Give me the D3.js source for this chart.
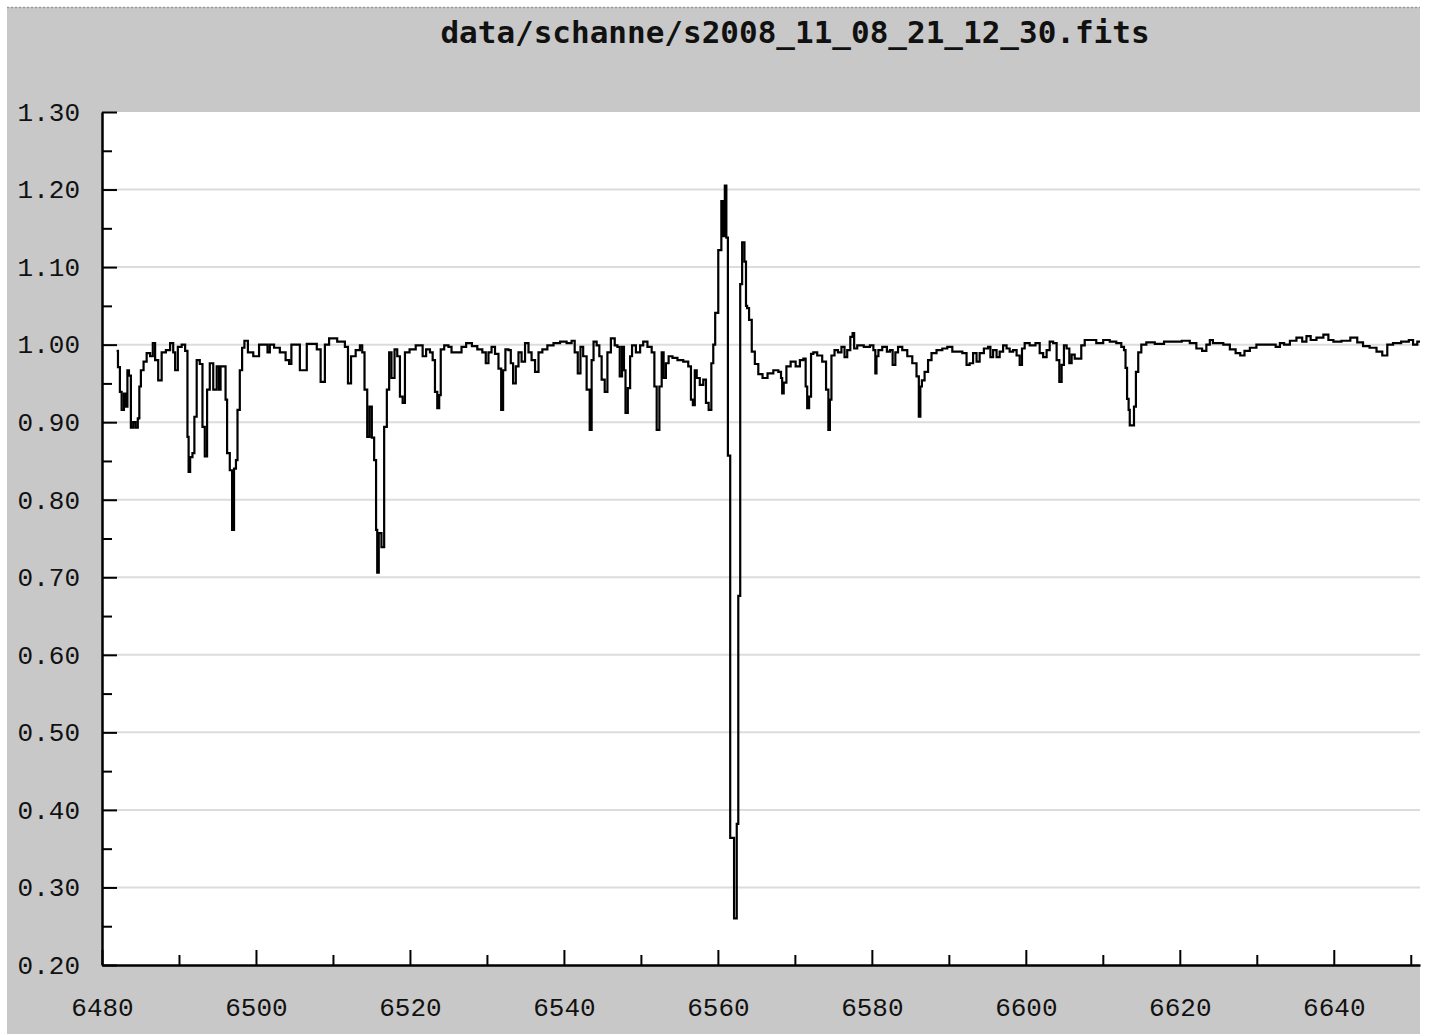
<!DOCTYPE html>
<html>
<head>
<meta charset="utf-8">
<script src="https://cdn.jsdelivr.net/npm/d3@7"></script>
<style>
  html, body { margin: 0; padding: 0; background: #ffffff; }
  svg { display: block; }
  .tick text { font-family: "Liberation Mono", "DejaVu Sans Mono", monospace; font-size: 26px; fill: #111; }
</style>
</head>
<body>
<svg id="chart" width="1430" height="1034"></svg>
<script>
// Spectrum: wavelength (Angstrom) and normalised flux
const title = "data/schanne/s2008_11_08_21_12_30.fits";

const wavelength = [
  6481.9, 6482.25, 6482.4, 6482.7, 6483.0, 6483.2, 6483.4, 6483.6, 6483.9, 6484.2,
  6484.5, 6484.8, 6484.9, 6485.2, 6485.6, 6486.0, 6486.5, 6486.7, 6487.1, 6487.5,
  6488.0, 6488.6, 6489.1, 6489.4, 6489.6, 6490.1, 6490.6, 6491.0, 6491.2, 6491.3,
  6491.6, 6491.9, 6492.1, 6492.5, 6492.9, 6493.2, 6493.5, 6493.8, 6494.2, 6494.7,
  6495.1, 6495.3, 6495.5, 6496.0, 6496.1, 6496.4, 6496.8, 6497.0, 6497.3, 6497.5,
  6497.7, 6498.1, 6498.3, 6498.7, 6499.2, 6500.1, 6500.7, 6501.4, 6501.6, 6502.0,
  6502.7, 6503.5, 6504.2, 6504.4, 6504.8, 6505.5, 6505.9, 6506.4, 6506.8, 6507.7,
  6508.1, 6508.7, 6509.2, 6509.8, 6511.3, 6511.8, 6512.1, 6512.6, 6513.3, 6513.7,
  6513.9, 6514.3, 6514.6, 6514.9, 6515.2, 6515.5, 6515.7, 6515.8, 6516.1, 6516.5,
  6516.8, 6517.2, 6517.4, 6517.8, 6518.2, 6518.5, 6518.9, 6519.2, 6519.5, 6520.4,
  6521.1, 6521.5, 6521.8, 6522.4, 6522.8, 6523.1, 6523.4, 6523.7, 6523.9, 6524.1,
  6524.8, 6525.2, 6525.6, 6526.5, 6526.9, 6527.7, 6528.4, 6529.1, 6529.7, 6530.0,
  6530.4, 6530.8, 6531.3, 6531.7, 6532.0, 6532.2, 6532.6, 6533.0, 6533.2, 6533.6,
  6533.9, 6534.3, 6534.7, 6535.2, 6535.6, 6536.0, 6536.5, 6536.9, 6537.5, 6538.2,
  6539.1, 6539.9, 6540.8, 6541.2, 6541.6, 6542.0, 6542.3, 6542.7, 6543.2, 6543.5,
  6543.7, 6544.0, 6544.5, 6544.7, 6545.1, 6545.5, 6545.8, 6546.4, 6546.8, 6547.1,
  6547.4, 6547.7, 6547.9, 6548.1, 6548.5, 6548.7, 6549.0, 6549.7, 6550.1, 6550.5,
  6551.2, 6551.6, 6551.9, 6552.2, 6552.6, 6552.8, 6553.1, 6553.4, 6553.8, 6554.4,
  6555.1, 6555.9, 6556.4, 6556.6, 6556.9, 6557.1, 6557.4, 6557.9, 6558.3, 6558.6,
  6559.0, 6559.3, 6559.5, 6559.8, 6560.3, 6560.6, 6560.8, 6561.0, 6561.2, 6561.4,
  6561.8, 6562.0, 6562.2, 6562.4, 6562.5, 6562.8, 6563.0, 6563.3, 6563.6, 6563.7,
  6563.9, 6564.2, 6564.6, 6565.0, 6565.5, 6566.1, 6566.8, 6567.6, 6568.1, 6568.3,
  6568.4, 6568.7, 6569.1, 6569.8, 6570.4, 6570.9, 6571.3, 6571.5, 6571.7, 6572.0,
  6572.2, 6572.6, 6573.2, 6573.9, 6574.2, 6574.5, 6574.6, 6574.9, 6575.4, 6575.8,
  6576.3, 6576.6, 6577.0, 6577.4, 6577.6, 6577.8, 6578.4, 6579.5, 6580.0, 6580.4,
  6580.5, 6580.7, 6581.0, 6581.7, 6582.2, 6582.5, 6582.9, 6583.2, 6583.6, 6584.3,
  6584.9, 6585.6, 6586.0, 6586.2, 6586.4, 6586.6, 6587.1, 6587.5, 6588.0, 6588.8,
  6589.5, 6590.1, 6590.8, 6591.4, 6592.1, 6592.5, 6592.9, 6593.4, 6593.8, 6594.2,
  6594.9, 6595.3, 6595.5, 6596.0, 6596.4, 6596.8, 6597.3, 6597.7, 6598.1, 6598.6,
  6599.0, 6599.4, 6599.6, 6600.1, 6600.9, 6601.6, 6602.0, 6602.5, 6602.9, 6603.3,
  6603.8, 6604.2, 6604.5, 6604.8, 6605.1, 6605.5, 6605.8, 6606.1, 6606.6, 6607.0,
  6607.4, 6607.9, 6608.7, 6609.6, 6610.5, 6611.3, 6612.2, 6612.6, 6612.9, 6613.0,
  6613.3, 6613.4, 6613.6, 6613.9, 6614.2, 6614.4, 6614.8, 6615.2, 6616.1, 6617.4,
  6618.5, 6619.6, 6620.9, 6621.7, 6622.6, 6623.2, 6623.7, 6624.1, 6624.5, 6625.2,
  6626.1, 6626.9, 6627.6, 6628.1, 6628.7, 6629.5, 6630.4, 6632.1, 6632.8, 6633.2,
  6633.9, 6634.7, 6635.6, 6636.2, 6636.7, 6637.3, 6638.2, 6639.1, 6639.5, 6640.4,
  6641.6, 6642.7, 6643.4, 6644.2, 6645.1, 6646.0, 6646.6, 6647.3, 6648.1, 6649.4,
  6650.1, 6650.5, 6651.2
];

const flux = [
  0.992, 0.971, 0.939, 0.916, 0.937, 0.920, 0.967, 0.960, 0.893, 0.900,
  0.893, 0.905, 0.946, 0.967, 0.978, 0.989, 0.985, 1.002, 0.980, 0.954,
  0.990, 0.993, 1.002, 0.990, 0.967, 0.997, 1.000, 0.992, 0.881, 0.836,
  0.855, 0.860, 0.907, 0.980, 0.975, 0.894, 0.856, 0.942, 0.976, 0.942,
  0.972, 0.942, 0.972, 0.972, 0.929, 0.860, 0.838, 0.761, 0.840, 0.851,
  0.916, 0.967, 0.996, 1.005, 0.990, 0.985, 1.000, 1.000, 0.990, 1.000,
  0.996, 0.990, 0.980, 0.975, 1.000, 1.000, 0.967, 0.967, 1.001, 1.001,
  0.994, 0.952, 1.000, 1.008, 1.004, 0.997, 0.950, 0.985, 0.993, 0.999,
  0.990, 0.942, 0.881, 0.920, 0.880, 0.851, 0.761, 0.706, 0.757, 0.739,
  0.894, 0.942, 0.990, 0.957, 0.994, 0.985, 0.933, 0.925, 0.990, 0.994,
  0.999, 0.999, 0.985, 0.994, 0.990, 0.980, 0.939, 0.918, 0.935, 0.994,
  0.999, 0.997, 0.990, 0.990, 0.997, 1.002, 0.998, 0.994, 0.990, 0.976,
  0.990, 0.997, 0.988, 0.969, 0.916, 0.967, 0.994, 0.993, 0.976, 0.950,
  0.972, 0.990, 0.978, 1.002, 0.990, 0.980, 0.965, 0.990, 0.994, 0.999,
  1.002, 1.004, 1.002, 1.005, 0.990, 0.963, 0.997, 0.985, 0.942, 0.890,
  0.980, 1.004, 0.999, 0.985, 0.955, 0.939, 0.990, 1.008, 0.999, 0.997,
  0.959, 0.997, 0.967, 0.912, 0.944, 0.985, 0.999, 0.990, 0.999, 1.004,
  0.997, 0.990, 0.946, 0.890, 0.946, 0.990, 0.957, 0.976, 0.985, 0.983,
  0.980, 0.978, 0.972, 0.929, 0.922, 0.967, 0.957, 0.948, 0.955, 0.925,
  0.916, 0.976, 1.000, 1.041, 1.122, 1.185, 1.140, 1.205, 1.138, 0.857,
  0.364, 0.364, 0.260, 0.260, 0.382, 0.676, 1.078, 1.132, 1.107, 1.050,
  1.047, 1.032, 0.991, 0.975, 0.962, 0.957, 0.963, 0.967, 0.965, 0.957,
  0.937, 0.951, 0.972, 0.978, 0.972, 0.980, 0.982, 0.946, 0.918, 0.933,
  0.988, 0.990, 0.986, 0.978, 0.942, 0.890, 0.929, 0.986, 0.993, 0.990,
  0.997, 0.984, 0.993, 1.010, 1.015, 0.995, 0.999, 0.997, 0.999, 0.993,
  0.963, 0.985, 0.993, 0.997, 0.991, 0.993, 0.974, 0.990, 0.997, 0.993,
  0.985, 0.976, 0.959, 0.907, 0.946, 0.954, 0.965, 0.980, 0.989, 0.993,
  0.995, 0.997, 0.991, 0.991, 0.989, 0.974, 0.976, 0.989, 0.978, 0.989,
  0.995, 0.997, 0.984, 0.993, 0.984, 0.991, 0.999, 0.995, 0.991, 0.993,
  0.986, 0.974, 0.995, 1.002, 0.999, 1.002, 0.989, 0.984, 0.993, 1.004,
  1.002, 0.980, 0.952, 0.974, 0.999, 0.995, 0.976, 0.987, 0.982, 0.982,
  0.999, 1.006, 1.006, 1.002, 1.006, 1.004, 1.002, 0.997, 0.993, 0.970,
  0.930, 0.916, 0.896, 0.896, 0.920, 0.965, 0.990, 1.000, 1.003, 1.001,
  1.004, 1.004, 1.005, 1.002, 0.995, 0.992, 1.000, 1.006, 1.002, 1.002,
  1.000, 0.994, 0.989, 0.986, 0.992, 0.996, 1.000, 1.000, 0.997, 1.002,
  1.000, 1.005, 1.009, 1.004, 1.011, 1.006, 1.009, 1.013, 1.006, 1.004,
  1.005, 1.009, 1.003, 0.998, 0.996, 0.991, 0.986, 1.000, 1.002, 1.004,
  1.006, 1.000, 1.004
];

const xMajorTicks = [6480, 6500, 6520, 6540, 6560, 6580, 6600, 6620, 6640];
const xMinorTicks = [6490, 6510, 6530, 6550, 6570, 6590, 6610, 6630, 6650];
const yMajorTicks = [0.20, 0.30, 0.40, 0.50, 0.60, 0.70, 0.80, 0.90, 1.00, 1.10, 1.20, 1.30];
const yMinorTicks = [0.25, 0.35, 0.45, 0.55, 0.65, 0.75, 0.85, 0.95, 1.05, 1.15, 1.25];
const xDomain = [6480, 6651.2];
const yDomain = [0.20, 1.30];

const svg = d3.select("#chart");
const W = 1430, H = 1034;
const plot = { left: 102, right: 1420, top: 112, bottom: 965 };

// grey frame with dotted top border
svg.append("rect")
  .attr("x", 7).attr("y", 7)
  .attr("width", plot.right - 7).attr("height", H - 7)
  .attr("fill", "#c8c8c8");
svg.append("line")
  .attr("x1", 7).attr("x2", plot.right)
  .attr("y1", 7.5).attr("y2", 7.5)
  .attr("stroke", "#9a9a9a").attr("stroke-width", 1.5)
  .attr("stroke-dasharray", "2,2");

// title
svg.append("text")
  .attr("x", 795).attr("y", 43)
  .attr("text-anchor", "middle")
  .attr("font-family", "'DejaVu Sans Mono', 'Liberation Mono', monospace")
  .attr("font-weight", "bold")
  .attr("font-size", 31)
  .attr("fill", "#111")
  .text(title);

// white plotting area
svg.append("rect")
  .attr("x", plot.left).attr("y", plot.top)
  .attr("width", plot.right - plot.left).attr("height", plot.bottom - plot.top)
  .attr("fill", "#ffffff");

const x = d3.scaleLinear().domain(xDomain).range([plot.left, plot.right]);
const y = d3.scaleLinear().domain(yDomain).range([plot.bottom, plot.top]);

// horizontal grid
svg.append("g")
  .selectAll("line")
  .data(yMajorTicks.filter(v => v > yDomain[0] && v < yDomain[1]))
  .join("line")
  .attr("x1", plot.left).attr("x2", plot.right)
  .attr("y1", d => y(d)).attr("y2", d => y(d))
  .attr("stroke", "#dcdcdc").attr("stroke-width", 2);

// spectrum trace
const pts = wavelength.map((w, i) => [w, flux[i]]);
svg.append("defs").append("clipPath").attr("id", "plotClip")
  .append("rect")
  .attr("x", plot.left).attr("y", plot.top)
  .attr("width", plot.right - plot.left).attr("height", plot.bottom - plot.top);

svg.append("path")
  .datum(pts)
  .attr("clip-path", "url(#plotClip)")
  .attr("fill", "none")
  .attr("stroke", "#000")
  .attr("stroke-width", 2.2)
  .attr("stroke-linejoin", "miter")
  .attr("d", d3.line().x(d => x(d[0])).y(d => y(d[1])).curve(d3.curveStep));

// y axis: inward ticks, labels on the left
const yAxis = svg.append("g")
  .attr("transform", `translate(${plot.left},0)`)
  .call(d3.axisLeft(y).tickValues(yMajorTicks).tickFormat(d3.format(".2f"))
    .tickSizeInner(-15).tickSizeOuter(0).tickPadding(22));
svg.append("g")
  .attr("transform", `translate(${plot.left},0)`)
  .call(d3.axisLeft(y).tickValues(yMinorTicks).tickFormat("")
    .tickSizeInner(-10).tickSizeOuter(0))
  .select(".domain").remove();

// x axis: inward ticks, labels below
const xAxis = svg.append("g")
  .attr("transform", `translate(0,${plot.bottom})`)
  .call(d3.axisBottom(x).tickValues(xMajorTicks).tickFormat(d3.format("d"))
    .tickSizeInner(-15).tickSizeOuter(0).tickPadding(33));
svg.append("g")
  .attr("transform", `translate(0,${plot.bottom})`)
  .call(d3.axisBottom(x).tickValues(xMinorTicks).tickFormat("")
    .tickSizeInner(-10).tickSizeOuter(0))
  .select(".domain").remove();

svg.selectAll(".domain").attr("stroke", "#000").attr("stroke-width", 2.5);
svg.selectAll(".tick line").attr("stroke", "#000").attr("stroke-width", 2);
</script>
</body>
</html>
